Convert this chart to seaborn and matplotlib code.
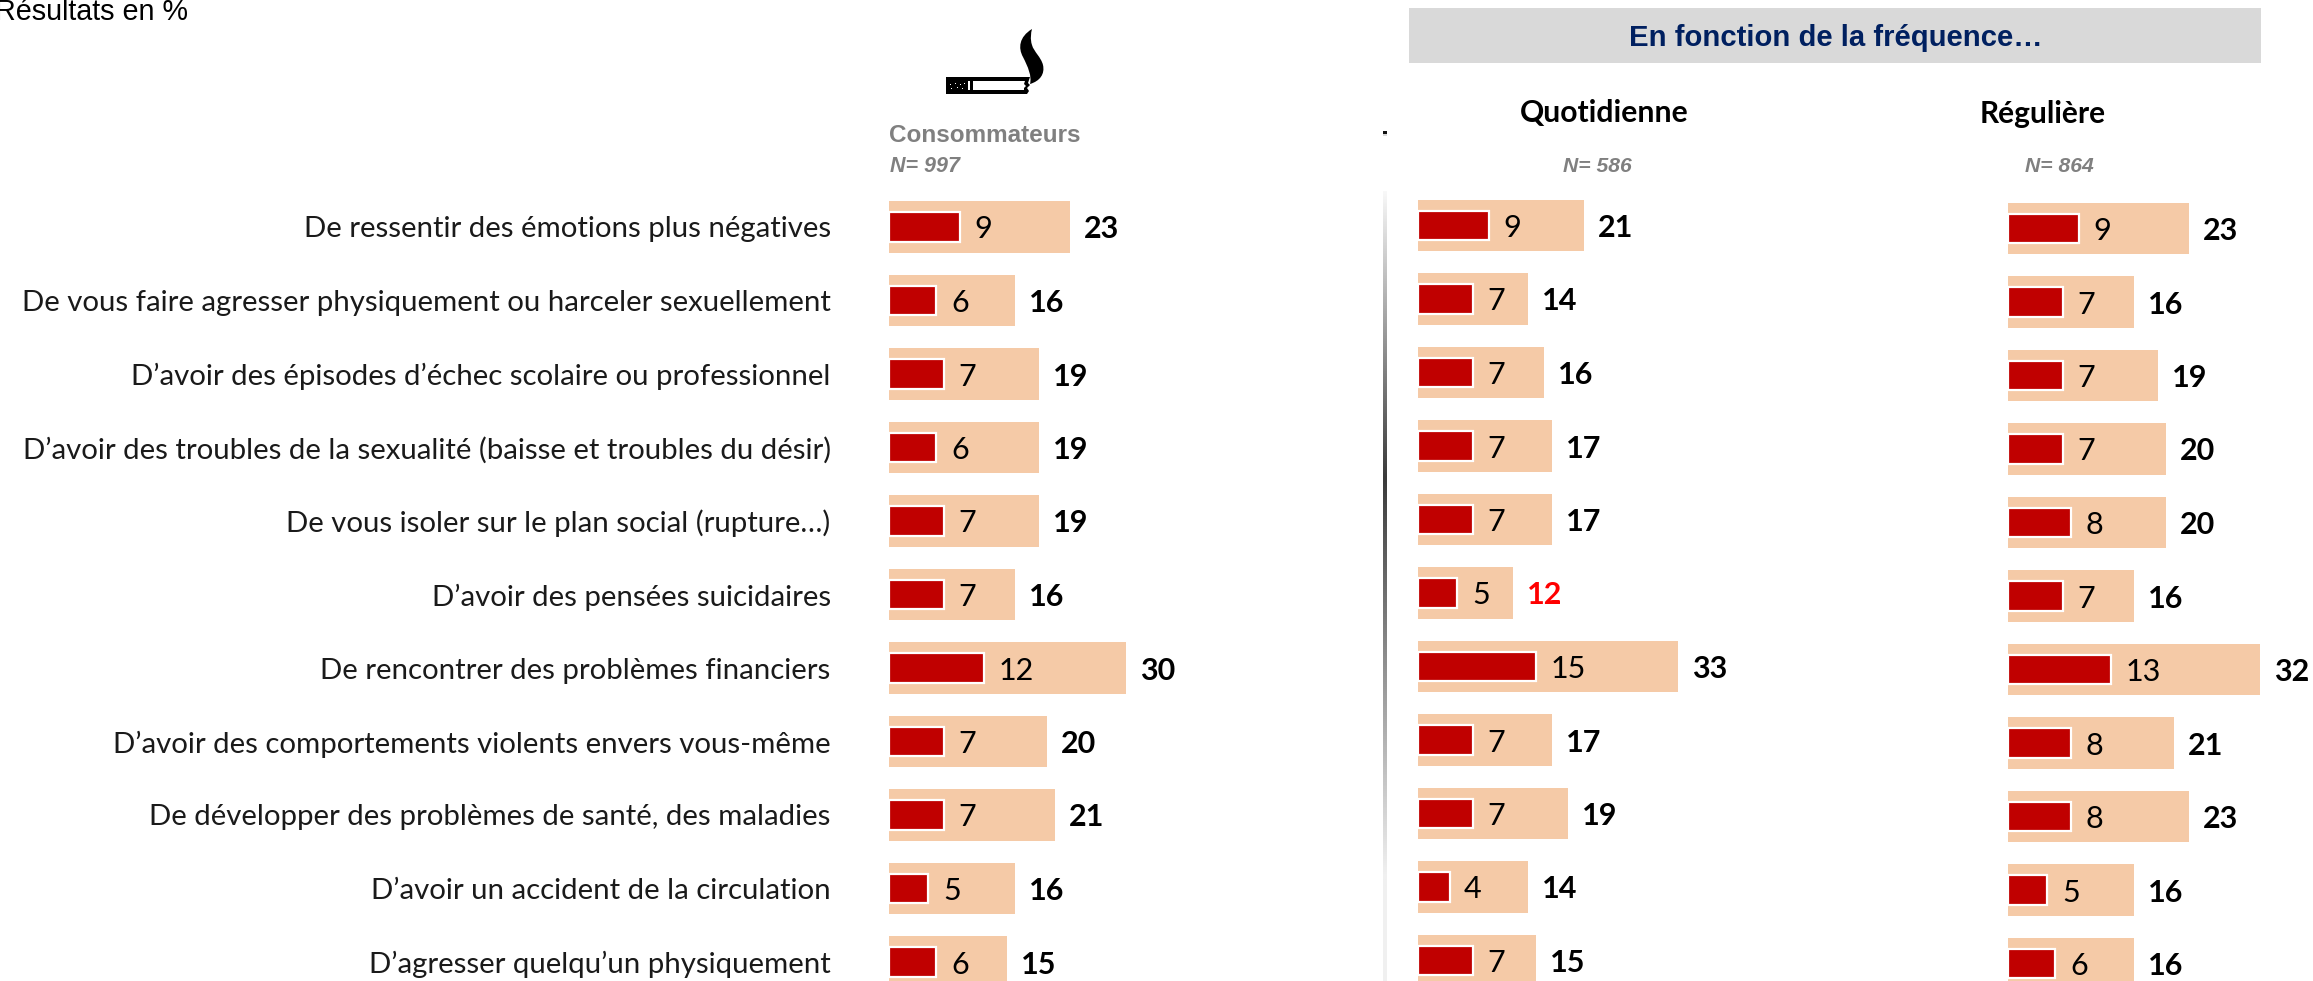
import numpy as np
import pandas as pd
import matplotlib
matplotlib.use("Agg")
import matplotlib.pyplot as plt
from matplotlib.patches import Rectangle, PathPatch, Polygon
from matplotlib.path import Path
from matplotlib.colors import LinearSegmentedColormap
import seaborn as sns

W, H = 2313, 981
categories = [
    "De ressentir des émotions plus négatives",
    "De vous faire agresser physiquement ou harceler sexuellement",
    "D’avoir des épisodes d’échec scolaire ou professionnel",
    "D’avoir des troubles de la sexualité (baisse et troubles du désir)",
    "De vous isoler sur le plan social (rupture…)",
    "D’avoir des pensées suicidaires",
    "De rencontrer des problèmes financiers",
    "D’avoir des comportements violents envers vous-même",
    "De développer des problèmes de santé, des maladies",
    "D’avoir un accident de la circulation",
    "D’agresser quelqu’un physiquement",
]
conso_inner = [9, 6, 7, 6, 7, 7, 12, 7, 7, 5, 6]
conso_total = [23, 16, 19, 19, 19, 16, 30, 20, 21, 16, 15]
quot_inner = [9, 7, 7, 7, 7, 5, 15, 7, 7, 4, 7]
quot_total = [21, 14, 16, 17, 17, 12, 33, 17, 19, 14, 15]
reg_inner = [9, 7, 7, 7, 8, 7, 13, 8, 8, 5, 6]
reg_total = [23, 16, 19, 20, 20, 16, 32, 21, 23, 16, 16]
panels = [(conso_inner, conso_total, 889, 0.0),
          (quot_inner, quot_total, 1418, -1.5),
          (reg_inner, reg_total, 2008, 1.5)]

sns.set_theme(style="white")
FONT = "Lato"
ARIAL = "Liberation Sans"
plt.rcParams["font.family"] = [FONT, "DejaVu Sans"]

fig = plt.figure(figsize=(W / 100, H / 100), dpi=100, facecolor="white")
PX = 7.89
ROW = 73.5
Y0 = 227.0

def px_axes(x0, x1, y0, y1):
    return fig.add_axes([x0 / W, 1 - y1 / H, (x1 - x0) / W, (y1 - y0) / H])

for i, (inner, total, left, dy) in enumerate(panels):
    y0 = Y0 + dy
    right = min(W, left + 300)
    ax = px_axes(left, right, y0 - ROW / 2, H)
    ax.patch.set_alpha(0)
    df = pd.DataFrame({"cat": categories, "inner": inner, "total": total})
    sns.barplot(data=df, y="cat", x="total", color="#F5CAA7", saturation=1,
                width=0.694, ax=ax, linewidth=0, zorder=1)
    sns.barplot(data=df, y="cat", x="inner", color="#C00000", saturation=1,
                width=0.40, ax=ax, edgecolor="white", linewidth=1.6, zorder=2)
    outer_bars, inner_bars = ax.containers[0], ax.containers[1]
    ax.set_xlim(0, (right - left) / PX)
    ax.set_ylim((H - y0) / ROW, -0.5)
    for lab in ax.bar_label(inner_bars, labels=[str(v) for v in inner], padding=10.5,
                            fontsize=22, color="black", family=FONT, clip_on=False):
        lab.xyann = (10.5, -1.8)
    for lab, v in zip(ax.bar_label(outer_bars, labels=[str(v) for v in total],
                                   padding=10, fontsize=22, fontweight="bold",
                                   family=FONT, clip_on=False), total):
        lab.set_color("#FF0000" if v == 12 else "black")
        lab.xyann = (10, -1.8)
    ax.set_xlabel("")
    ax.set_ylabel("")
    ax.set_xticks([])
    sns.despine(ax=ax, left=True, bottom=True)
    if i == 0:
        ax.tick_params(axis="y", length=0, pad=42)
        ax.set_yticks(range(len(categories)))
        ax.set_yticklabels(categories, fontsize=21.2, color="#1a1a1a", family=FONT)
    else:
        ax.set_yticks([])

# overlay in pixel coordinates
ov = fig.add_axes([0, 0, 1, 1], zorder=5)
ov.patch.set_alpha(0)

# vertical gradient separator
sep = LinearSegmentedColormap.from_list(
    "sep", [(0.0, "#F8F8F8"), (0.41, "#3A3A3A"), (0.98, "#F0F0F0"), (1.0, "#F0F0F0")])
ov.imshow(np.linspace(0, 1, 256)[:, None], cmap=sep, vmin=0, vmax=1, aspect="auto",
          extent=(1383, 1387, 889, 191), zorder=1)
ov.add_patch(Rectangle((1383, 131), 4, 3, facecolor="#111111", edgecolor="none"))
ov.add_patch(Rectangle((1383, 134), 4, 2, facecolor="#D8D8D8", edgecolor="none"))
ov.add_patch(Rectangle((1383, 889), 4, 92, facecolor="#F0F0F0", edgecolor="none"))
ov.set_xlim(0, W)
ov.set_ylim(H, 0)
ov.axis("off")

# cigarette icon
ov.add_patch(Polygon([(946, 77), (1030, 77), (1028, 83), (1030, 85), (1027, 88),
                      (1029, 91), (1027, 94), (946, 94)], closed=True,
                     facecolor="black", edgecolor="none"))
ov.add_patch(Polygon([(973, 81), (1025, 81), (1024, 84), (1026, 86), (1024, 88),
                      (1024, 90), (973, 90)], closed=True,
                     facecolor="white", edgecolor="none"))
ov.add_patch(Rectangle((968, 81), 2, 9, facecolor="white", edgecolor="none"))
for dx, dy_ in [(950, 84), (955, 83), (960, 84), (964, 83), (951, 88), (957, 87),
                (962, 88)]:
    ov.add_patch(Rectangle((dx, dy_), 1.4, 1.4, facecolor="white", edgecolor="none"))
smoke = Path([(1032, 29), (1019, 37), (1018, 48), (1023, 57), (1028, 67), (1032, 76),
              (1030, 84), (1040, 81), (1045, 74), (1043, 65), (1041, 57), (1034, 52),
              (1032, 45), (1030, 39), (1031, 33), (1032, 29)],
             [Path.MOVETO] + [Path.CURVE4] * 15)
ov.add_patch(PathPatch(smoke, facecolor="black", edgecolor="none"))

ov.add_patch(Rectangle((1409, 8), 852, 55, facecolor="#D9D9D9", edgecolor="none"))
ov.text(1835.5, 38.5, "En fonction de la fréquence…", ha="center", va="center",
        family=ARIAL, fontweight="bold", fontsize=21.05, color="#002060")
ov.text(1604, 113.5, "Quotidienne", ha="center", va="center", family=FONT,
        fontweight="bold", fontsize=21.7, color="black")
ov.text(2042.5, 113.5, "Régulière", ha="center", va="center", family=FONT,
        fontweight="bold", fontsize=21.5, color="black")
ov.text(889.5, 135.5, "Consommateurs", ha="left", va="center", family=ARIAL,
        fontweight="bold", fontsize=17.5, color="#808080")
ov.text(889.5, 166, "N= 997", ha="left", va="center", family=ARIAL,
        fontweight="bold", style="italic", fontsize=15.5, color="#808080")
ov.text(1597, 167, "N= 586", ha="center", va="center", family=ARIAL,
        fontweight="bold", style="italic", fontsize=15.2, color="#808080")
ov.text(2059, 167, "N= 864", ha="center", va="center", family=ARIAL,
        fontweight="bold", style="italic", fontsize=15.2, color="#808080")
ov.text(-5, 12, "Résultats en %", ha="left", va="center", family=ARIAL,
        fontsize=20.7, color="black", clip_on=False)

fig.savefig("out.png", dpi=100, facecolor="white")
